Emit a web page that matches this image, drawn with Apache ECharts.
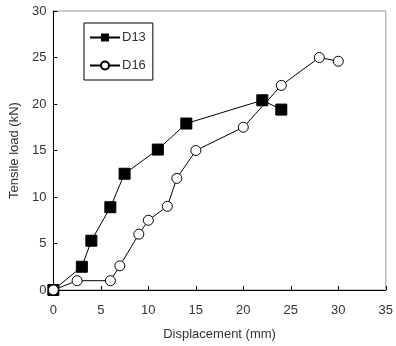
<!DOCTYPE html>
<html><head><meta charset="utf-8">
<script src="https://cdn.jsdelivr.net/npm/echarts@6/dist/echarts.min.js"></script>
<style>html,body{margin:0;padding:0;background:#fff}#c{width:396px;height:346px}</style>
</head><body><div id="c"></div>
<script>
const d13X = [0, 3, 4, 6, 7.5, 11, 14, 22, 24];
const d13Y = [0, 2.5, 5.3, 8.9, 12.5, 15.1, 17.9, 20.4, 19.4];
const d16X = [0, 2.5, 6, 7, 9, 10, 12, 13, 15, 20, 24, 28, 30];
const d16Y = [0, 1, 1, 2.6, 6, 7.5, 9, 12, 15, 17.5, 22, 25, 24.6];
const xTicks = [0, 5, 10, 15, 20, 25, 30, 35];
const yTicks = [0, 5, 10, 15, 20, 25, 30];

const font = 'Liberation Sans, Arial, sans-serif';
const txt = '#333';
const chart = echarts.init(document.getElementById('c'));
chart.setOption({
  animation: false,
  grid: {left: 50, right: 9, top: 11, bottom: 55, show: true, borderColor: '#999', borderWidth: 1},
  legend: {
    left: 84, top: 23, orient: 'vertical', itemGap: 15,
    itemWidth: 30, itemHeight: 10,
    borderColor: '#000', borderWidth: 1, padding: [8, 7, 8, 5],
    textStyle: {fontFamily: font, fontSize: 13, color: txt, padding: [0, 0, 0, -3]},
    data: ['D13', 'D16']
  },
  xAxis: {
    type: 'value', min: 0, max: 35, interval: 5,
    name: 'Displacement (mm)', nameLocation: 'middle', nameGap: 38,
    nameTextStyle: {fontFamily: font, fontSize: 13, color: txt},
    axisLine: {lineStyle: {color: '#000', width: 1}},
    axisTick: {inside: true, length: 4, lineStyle: {color: '#000'}},
    axisLabel: {fontFamily: font, fontSize: 13, color: txt, margin: 14},
    splitLine: {show: false}
  },
  yAxis: {
    type: 'value', min: 0, max: 30, interval: 5,
    name: 'Tensile load (kN)', nameLocation: 'middle', nameGap: 32, nameRotate: 90,
    nameTextStyle: {fontFamily: font, fontSize: 13, color: txt},
    axisLine: {show: true, lineStyle: {color: '#000', width: 1}},
    axisTick: {show: true, inside: true, length: 4, lineStyle: {color: '#000'}},
    axisLabel: {fontFamily: font, fontSize: 13, color: txt, margin: 7},
    splitLine: {show: false}
  },
  series: [
    {name: 'D13', type: 'line', data: d13X.map((x, i) => [x, d13Y[i]]),
     symbol: 'rect', symbolSize: 11, lineStyle: {color: '#000', width: 1},
     itemStyle: {color: '#000', borderColor: '#000'}},
    {name: 'D16', type: 'line', data: d16X.map((x, i) => [x, d16Y[i]]),
     symbol: 'circle', symbolSize: 10, lineStyle: {color: '#000', width: 1},
     itemStyle: {color: '#fff', borderColor: '#000', borderWidth: 1}}
  ]
});
</script></body></html>
